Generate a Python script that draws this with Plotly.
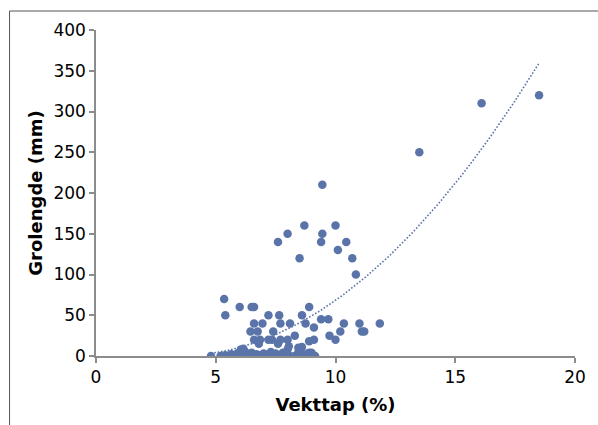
import numpy as np
import plotly.graph_objects as go

# Scatter data: Vekttap (%) vs Grolengde (mm)
vekttap = [
    4.8,
    5.35, 5.4, 6.0, 6.5, 6.6, 7.2, 7.65, 8.6, 8.9,
    6.6, 6.95, 7.7, 8.1, 8.75, 9.4, 9.7, 10.35, 11.0, 11.85,
    11.1, 11.2, 10.2, 9.75, 10.0, 9.1, 8.3, 6.45, 6.75, 7.4,
    6.6, 6.85, 7.2, 7.35, 7.7, 8.0, 8.9, 9.1, 6.8, 7.6, 8.05, 8.45, 8.6, 8.9,
    9.45, 8.7, 10.0, 8.0, 9.45, 7.6, 9.4, 10.45, 10.1, 8.5, 10.7, 10.85,
    13.5, 16.1, 18.5,
    5.2, 5.4, 5.5, 5.65, 5.8, 5.9, 6.0, 6.05, 6.1, 6.15, 6.2, 6.25, 6.3, 6.4,
    6.5, 6.6, 6.7, 6.8, 6.9, 7.0, 7.1, 7.2, 7.3, 7.4, 7.5, 7.6, 7.7, 7.8,
    7.9, 8.0, 8.1, 8.3, 8.45, 8.55, 8.7, 8.85, 9.0, 9.15,
]
grolengde = [
    0,
    70, 50, 60, 60, 60, 50, 50, 50, 60,
    40, 40, 40, 40, 40, 45, 45, 40, 40, 40,
    30, 30, 30, 25, 20, 35, 25, 30, 30, 30,
    20, 20, 20, 20, 20, 20, 18, 20, 15, 15, 12, 10, 11, 4,
    210, 160, 160, 150, 150, 140, 140, 140, 130, 120, 120, 100,
    250, 310, 320,
    0, 1, 0, 2, 0, 3, 5, 8, 2, 9, 6, 0, 3, 0,
    4, 0, 2, 1, 0, 3, 0, 2, 5, 0, 3, 0, 1, 4,
    0, 8, 0, 0, 5, 8, 0, 3, 4, 0,
]

# Polynomial (order 2) trendline coefficients
trend_coef = [1.586, -10.94, 19.05]
trend_range = [4.8, 18.5]

x_ticks = [0, 5, 10, 15, 20]
y_ticks = [0, 50, 100, 150, 200, 250, 300, 350, 400]

blue = "#5a74a9"
axis_grey = "#8c8c8c"

tx = np.linspace(trend_range[0], trend_range[1], 120)
ty = np.polyval(trend_coef, tx)

fig = go.Figure()
fig.add_trace(go.Scatter(
    x=tx, y=ty, mode="lines",
    line=dict(color=blue, width=1.6, dash="1.6px,1.8px"),
    hoverinfo="skip", showlegend=False,
))
fig.add_trace(go.Scatter(
    x=vekttap, y=grolengde, mode="markers",
    marker=dict(color=blue, size=8.5, line=dict(width=0)),
    showlegend=False,
))

font_family = "DejaVu Sans"
fig.update_layout(
    width=598, height=425,
    margin=dict(l=96, r=20, t=30, b=69),
    paper_bgcolor="white", plot_bgcolor="white",
    font=dict(family=font_family, size=17, color="black"),
    showlegend=False,
    xaxis=dict(
        range=[0, 20], tickvals=x_ticks, ticktext=[str(v) for v in x_ticks],
        showline=True, linecolor=axis_grey, linewidth=1.5,
        ticks="outside", ticklen=5, tickcolor=axis_grey, tickwidth=1.5,
        showgrid=False, zeroline=False,
        tickfont=dict(size=17, family=font_family),
        title=dict(text="<b>Vekttap (%)</b>", font=dict(size=18, family=font_family), standoff=12),
    ),
    yaxis=dict(
        range=[0, 400], tickvals=y_ticks, ticktext=[str(v) for v in y_ticks],
        showline=True, linecolor=axis_grey, linewidth=1.5,
        ticks="outside", ticklen=5, tickcolor=axis_grey, tickwidth=1.5,
        showgrid=False, zeroline=False,
        tickfont=dict(size=17, family=font_family),
        title=dict(text="<b>Grolengde (mm)</b>", font=dict(size=18, family=font_family), standoff=6),
    ),
    shapes=[dict(
        type="rect", xref="paper", yref="paper",
        x0=(9 - 96) / 482, x1=1.3, y0=-0.5, y1=(356 - 11) / 326,
        line=dict(color="#555555", width=1), fillcolor="rgba(0,0,0,0)", layer="below",
    )],
)

fig.write_html("out.html")
